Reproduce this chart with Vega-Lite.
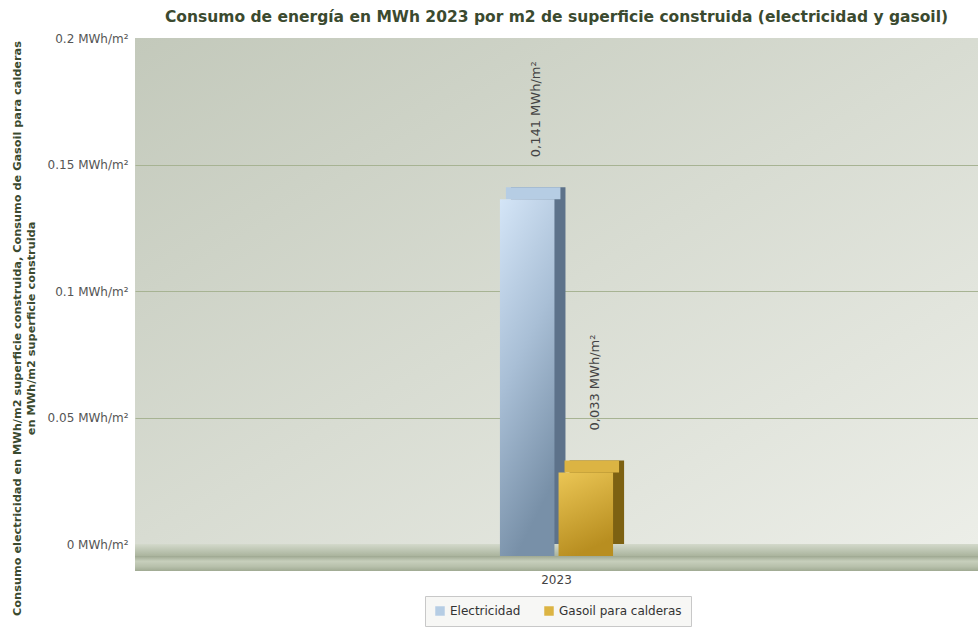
{
  "$schema": "https://vega.github.io/schema/vega-lite/v6.json",
  "width": 843,
  "height": 506,
  "autosize": {"type": "none"},
  "padding": {"left": 135, "top": 38, "right": 0, "bottom": 83},
  "background": "white",
  "config": {
    "font": "DejaVu Sans",
    "view": {
      "stroke": null,
      "fill": {"gradient": "linear", "x1": 0, "y1": 0, "x2": 1, "y2": 1,
        "stops": [{"offset": 0, "color": "#c3c9bb"}, {"offset": 0.5, "color": "#d8dcd2"}, {"offset": 1, "color": "#eceee8"}]}
    },
    "legend": {
      "orient": "none", "legendX": 290, "legendY": 558, "direction": "horizontal", "title": null,
      "strokeColor": "#c8c8c8", "fillColor": "#f7f7f5", "padding": 9,
      "symbolType": "square", "symbolSize": 90, "labelFontSize": 12, "labelColor": "#333333",
      "columnPadding": 22, "labelFont": "DejaVu Sans"
    }
  },
  "title": {
    "text": "Consumo de energía en MWh 2023 por m2 de superficie construida (electricidad y gasoil)",
    "fontSize": 15.5, "fontWeight": "bold", "color": "#3b4a2f", "anchor": "middle", "offset": 7, "font": "DejaVu Sans"
  },
  "datasets": {
    "bars": [
      {"year": "2023", "serie": "Electricidad", "value": 0.141, "label": "0,141 MWh/m²"},
      {"year": "2023", "serie": "Gasoil para calderas", "value": 0.033, "label": "0,033 MWh/m²"}
    ],
    "floor": [{"base": 0}]
  },
  "resolve": {"scale": {"x": "independent", "xOffset": "independent"}},
  "layer": [
    {
      "data": {"name": "floor"},
      "mark": {"type": "rect", "yOffset": 0, "y2Offset": 12,
        "fill": {"gradient": "linear", "x1": 0, "y1": 0, "x2": 0, "y2": 1,
          "stops": [{"offset": 0, "color": "#d3d9cb"}, {"offset": 1, "color": "#aab49d"}]}},
      "encoding": {
        "y": {"field": "base", "type": "quantitative",
          "scale": {"domain": [0, 0.2], "nice": false},
          "axis": {
            "title": ["Consumo electricidad en MWh/m2 superficie construida, Consumo de Gasoil para calderas", "en MWh/m2 superficie construida"],
            "values": [0, 0.05, 0.1, 0.15, 0.2],
            "labelExpr": "format(datum.value, '~g') + ' MWh/m²'",
            "domain": false, "ticks": false, "labelPadding": 7, "labelFontSize": 12, "labelColor": "#555555",
            "gridColor": "#a7b393",
            "gridOpacity": {"condition": {"test": "datum.value >= 0.2", "value": 0}, "value": 1},
            "titleFontSize": 11.3, "titleFontWeight": "bold", "titleColor": "#3b4a2f",
            "titlePadding": 11, "titleLineHeight": 14, "titleY": 290
          }},
        "y2": {"field": "base"}
      }
    },
    {
      "data": {"name": "floor"},
      "mark": {"type": "rect", "yOffset": 12, "y2Offset": 27,
        "fill": {"gradient": "linear", "x1": 0, "y1": 0, "x2": 0, "y2": 1,
          "stops": [{"offset": 0, "color": "#9ea891"}, {"offset": 0.35, "color": "#c7cfbc"}, {"offset": 0.7, "color": "#b7c0ab"}, {"offset": 1, "color": "#a0aa93"}]}},
      "encoding": {
        "y": {"field": "base", "type": "quantitative"},
        "y2": {"field": "base"}
      }
    },
    {
      "data": {"name": "bars"},
      "transform": [{"filter": "datum.serie == 'Electricidad'"}],
      "mark": {"type": "bar", "color": "#5d728a"},
      "encoding": {
        "x": {"field": "year", "type": "nominal", "axis": null,
          "scale": {"paddingInner": 0.69, "paddingOuter": 1, "align": 0.5151}},
        "xOffset": {"field": "serie", "type": "nominal", "scale": {"domain": ["Electricidad", "Gasoil para calderas"], "paddingInner": 0.07, "paddingOuter": 0}},
        "y": {"field": "value", "type": "quantitative"},
        "y2": {"datum": 0}
      }
    },
    {
      "data": {"name": "bars"},
      "transform": [{"filter": "datum.serie != 'Electricidad'"}],
      "mark": {"type": "bar", "color": "#7d6112"},
      "encoding": {
        "x": {"field": "year", "type": "nominal", "axis": null,
          "scale": {"paddingInner": 0.69, "paddingOuter": 1, "align": 0.5151}},
        "xOffset": {"field": "serie", "type": "nominal", "scale": {"domain": ["Electricidad", "Gasoil para calderas"], "paddingInner": 0.07, "paddingOuter": 0}},
        "y": {"field": "value", "type": "quantitative"},
        "y2": {"datum": 0}
      }
    },
    {
      "data": {"name": "bars"},
      "mark": {"type": "bar", "y2Offset": 12},
      "encoding": {
        "x": {"field": "year", "type": "nominal", "axis": null,
          "scale": {"paddingInner": 0.69, "paddingOuter": 1, "align": 0.5082}},
        "xOffset": {"field": "serie", "type": "nominal", "scale": {"domain": ["Electricidad", "Gasoil para calderas"], "paddingInner": 0.07, "paddingOuter": 0}},
        "y": {"field": "value", "type": "quantitative"},
        "y2": {"field": "value"},
        "color": {"field": "serie", "type": "nominal",
          "scale": {"domain": ["Electricidad", "Gasoil para calderas"], "range": ["#b6cde4", "#dcb443"]},
          "legend": {"title": null}}
      }
    },
    {
      "data": {"name": "bars"},
      "transform": [{"filter": "datum.serie == 'Electricidad'"}],
      "mark": {"type": "bar", "yOffset": 12, "y2Offset": 12,
        "fill": {"gradient": "linear", "x1": 0, "y1": 0, "x2": 0.3, "y2": 1,
          "stops": [{"offset": 0, "color": "#d4e5f7"}, {"offset": 0.5, "color": "#a9bfd6"}, {"offset": 1, "color": "#7890a8"}]}},
      "encoding": {
        "x": {"field": "year", "type": "nominal",
          "scale": {"paddingInner": 0.69, "paddingOuter": 1},
          "axis": {"title": null, "domain": false, "ticks": false, "grid": false, "labelAngle": 0, "labelPadding": 30, "labelFontSize": 12, "labelColor": "#444444"}},
        "xOffset": {"field": "serie", "type": "nominal", "scale": {"domain": ["Electricidad", "Gasoil para calderas"], "paddingInner": 0.07, "paddingOuter": 0}},
        "y": {"field": "value", "type": "quantitative"},
        "y2": {"datum": 0}
      }
    },
    {
      "data": {"name": "bars"},
      "transform": [{"filter": "datum.serie != 'Electricidad'"}],
      "mark": {"type": "bar", "yOffset": 12, "y2Offset": 12,
        "fill": {"gradient": "linear", "x1": 0, "y1": 0, "x2": 0.3, "y2": 1,
          "stops": [{"offset": 0, "color": "#ebc655"}, {"offset": 1, "color": "#b88e20"}]}},
      "encoding": {
        "x": {"field": "year", "type": "nominal", "axis": null,
          "scale": {"paddingInner": 0.69, "paddingOuter": 1}},
        "xOffset": {"field": "serie", "type": "nominal", "scale": {"domain": ["Electricidad", "Gasoil para calderas"], "paddingInner": 0.07, "paddingOuter": 0}},
        "y": {"field": "value", "type": "quantitative"},
        "y2": {"datum": 0}
      }
    },
    {
      "data": {"name": "bars"},
      "mark": {"type": "text", "angle": 270, "align": "left", "baseline": "middle", "dx": 30, "dy": 9, "fontSize": 13, "color": "#444444", "font": "DejaVu Sans"},
      "encoding": {
        "x": {"field": "year", "type": "nominal", "axis": null,
          "scale": {"paddingInner": 0.69, "paddingOuter": 1}},
        "xOffset": {"field": "serie", "type": "nominal", "scale": {"domain": ["Electricidad", "Gasoil para calderas"], "padding": 0.46}},
        "y": {"field": "value", "type": "quantitative"},
        "text": {"field": "label"}
      }
    }
  ]
}
